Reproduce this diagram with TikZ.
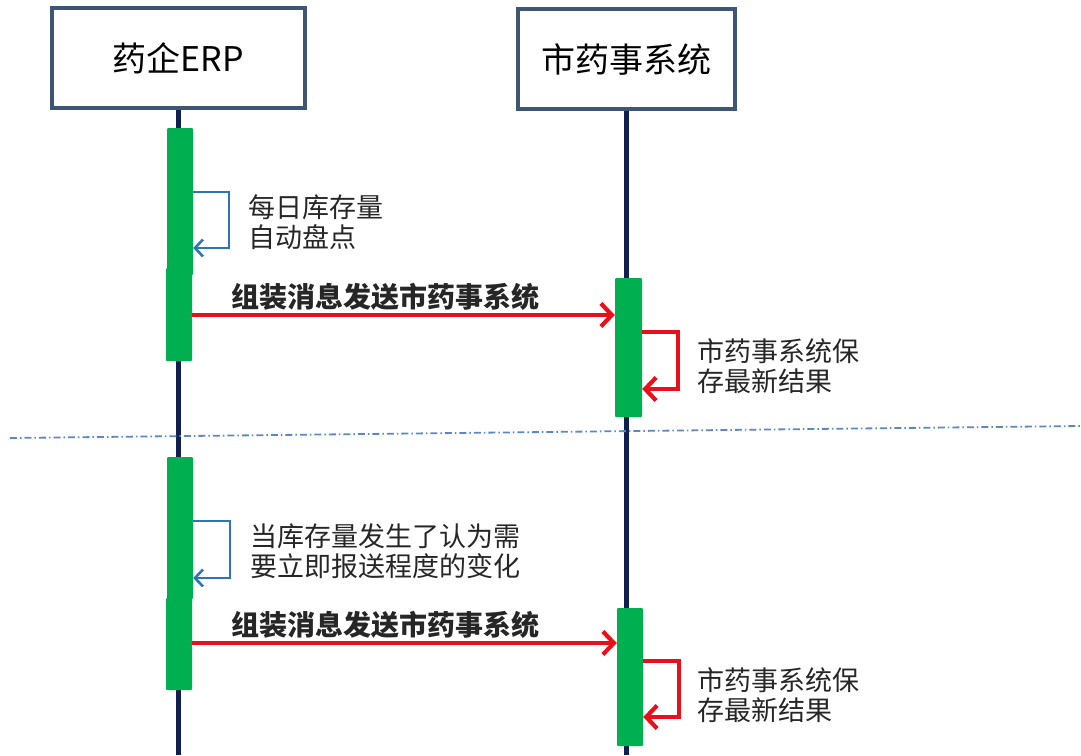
\documentclass[tikz,border=0pt]{standalone}
\usepackage{fontspec}
\setmainfont{Noto Sans CJK SC}
\usetikzlibrary{arrows.meta}

\definecolor{boxline}{HTML}{3E5575}
\definecolor{lifenavy}{HTML}{0F1F4F}
\definecolor{actgreen}{HTML}{00B050}
\definecolor{msgred}{HTML}{E8101A}
\definecolor{selfblue}{HTML}{2E75B6}
\definecolor{sepblue}{HTML}{5B87C5}
\definecolor{notegray}{HTML}{262626}

\tikzset{
	lifebox/.style={draw=boxline,line width=3.5pt,fill=white,minimum height=100pt,font=\fontsize{34}{40}\selectfont},
	lifeline/.style={draw=lifenavy,line width=4.5pt},
	actbar/.style={fill=actgreen,minimum width=26pt,inner sep=0pt,anchor=north,rounded corners=1pt},
	selfcall/.style={draw=selfblue,line width=2.6pt,-{Straight Barb[length=8pt,width=17pt,line width=2.6pt]}},
	selfsave/.style={draw=msgred,line width=4.2pt,-{Straight Barb[length=11pt,width=23pt,line width=4.2pt]}},
	msg/.style={draw=msgred,line width=4.2pt,-{Straight Barb[length=11pt,width=23pt,line width=4.2pt]}},
	msglabel/.style={font=\fontsize{28}{32}\selectfont\bfseries,text=notegray},
	note/.style={anchor=west,align=left,text=notegray,inner sep=0pt,font=\fontsize{27}{30}\selectfont},
	sepline/.style={draw=sepblue,line width=1.8pt,dash pattern=on 7pt off 3pt on 1.5pt off 3pt}
}

\begin{document}
\begin{tikzpicture}[x=1pt,y=-1pt]
	\useasboundingbox (0,0) rectangle (1081,755);

	% lifelines
	\node[lifebox,minimum width=253pt] (erp) at (178.5,58) {药企ERP};
	\node[lifebox,minimum width=217pt] (sys) at (626.5,59) {市药事系统};
	\draw[lifeline] (erp.south) -- (erp.south |- 0,755);
	\draw[lifeline] (sys.south) -- (sys.south |- 0,755);

	% first round
	\node[actbar,minimum height=147pt] (a1) at (180,128) {};
	\node[actbar,minimum height=93pt] (a1b) at (179,268) {};
	\node[actbar,minimum height=139pt,minimum width=27pt] (b1) at (628.5,278) {};
	\draw[selfcall] (a1.east |- 0,192) -| (229,248) -- (a1.east |- 0,248);
	\node[note] (n1) at (248,222) {每日库存量\\自动盘点};
	\draw[msg] (a1b.east |- 0,315) -- (b1.west |- 0,315);
	\node[msglabel] (m1) at (385,297) {组装消息发送市药事系统};
	\draw[selfsave] (b1.east |- 0,332) -| (678,389) -- (b1.east |- 0,389);
	\node[note] (s1) at (697,366) {市药事系统保\\存最新结果};

	% separator
	\draw[sepline] (10,438) -- (1081,426);

	% second round
	\node[actbar,minimum height=142pt] (a2) at (180,457) {};
	\node[actbar,minimum height=92pt] (a2b) at (179,598) {};
	\node[actbar,minimum height=138pt] (b2) at (630,608) {};
	\draw[selfcall] (a2.east |- 0,521) -| (230,578) -- (a2.east |- 0,578);
	\node[note] (n2) at (250,551) {当库存量发生了认为需\\要立即报送程度的变化};
	\draw[msg] (a2b.east |- 0,643) -- (b2.west |- 0,643);
	\node[msglabel] (m2) at (385,625) {组装消息发送市药事系统};
	\draw[selfsave] (b2.east |- 0,661) -| (679,717) -- (b2.east |- 0,717);
	\node[note] (s2) at (697,695) {市药事系统保\\存最新结果};
\end{tikzpicture}
\end{document}
